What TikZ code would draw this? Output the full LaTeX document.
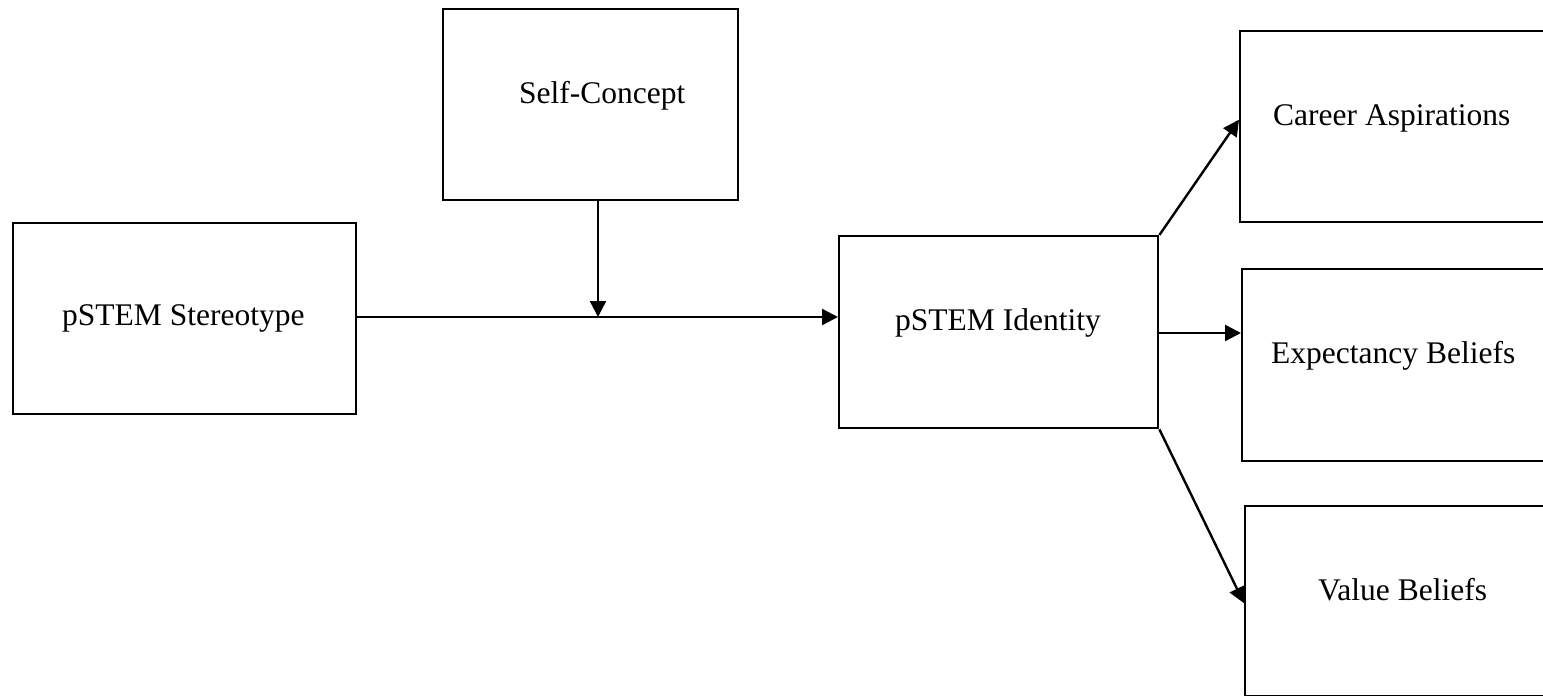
\documentclass[tikz,border=0pt]{standalone}
\usepackage{fontspec}
\setmainfont{Liberation Serif}
\usetikzlibrary{arrows.meta,calc}
\begin{document}
\begin{tikzpicture}[x=1pt,y=-1pt,
  box/.style={draw,line width=2.4pt,anchor=north west,inner sep=0pt,minimum width=#1},
  box/.default=300pt,
  lbl/.style={anchor=base west,inner sep=0pt,font=\fontsize{31.5}{36}\selectfont},
  arr/.style={line width=2.4pt,-{Triangle[length=16pt,width=16pt]}}]
\useasboundingbox (0,0) rectangle (1543,696);
\clip (0,0) rectangle (1543,696);
\fill[white] (0,0) rectangle (1543,696);
% boxes
\node[box=343pt,minimum height=191pt] (st) at (12,222) {};
\node[box=295pt,minimum height=191pt] (sc) at (442,8) {};
\node[box=319pt,minimum height=192pt] (id) at (838,235) {};
\node[box=330pt,minimum height=191pt] (ca) at (1239,30) {};
\node[box=330pt,minimum height=192pt] (ex) at (1241,268) {};
\node[box=330pt,minimum height=190pt] (vb) at (1244,505) {};
% labels
\node[lbl] (tst) at (62,325) {pSTEM Stereotype};
\node[lbl] (tsc) at (519,103) {Self-Concept};
\node[lbl] (tid) at (895,330) {pSTEM Identity};
\node[lbl] (tca) at (1273,125) {Career Aspirations};
\node[lbl] (tex) at (1271,363) {Expectancy Beliefs};
\node[lbl] (tvb) at (1318,600) {Value Beliefs};
% connectors
\coordinate (j) at (598,317);
\draw[arr] (st.east |- j) -- (j -| id.west);
\draw[arr] (sc.south -| j) -- (j);
\draw[arr] (id.north east) -- ([yshift=7pt]ca.west);
\coordinate (e) at (1157,333);
\draw[arr] (e) -- (e -| ex.west);
\draw[arr] (id.south east) -- ([yshift=-2pt]vb.west);
\end{tikzpicture}
\end{document}
